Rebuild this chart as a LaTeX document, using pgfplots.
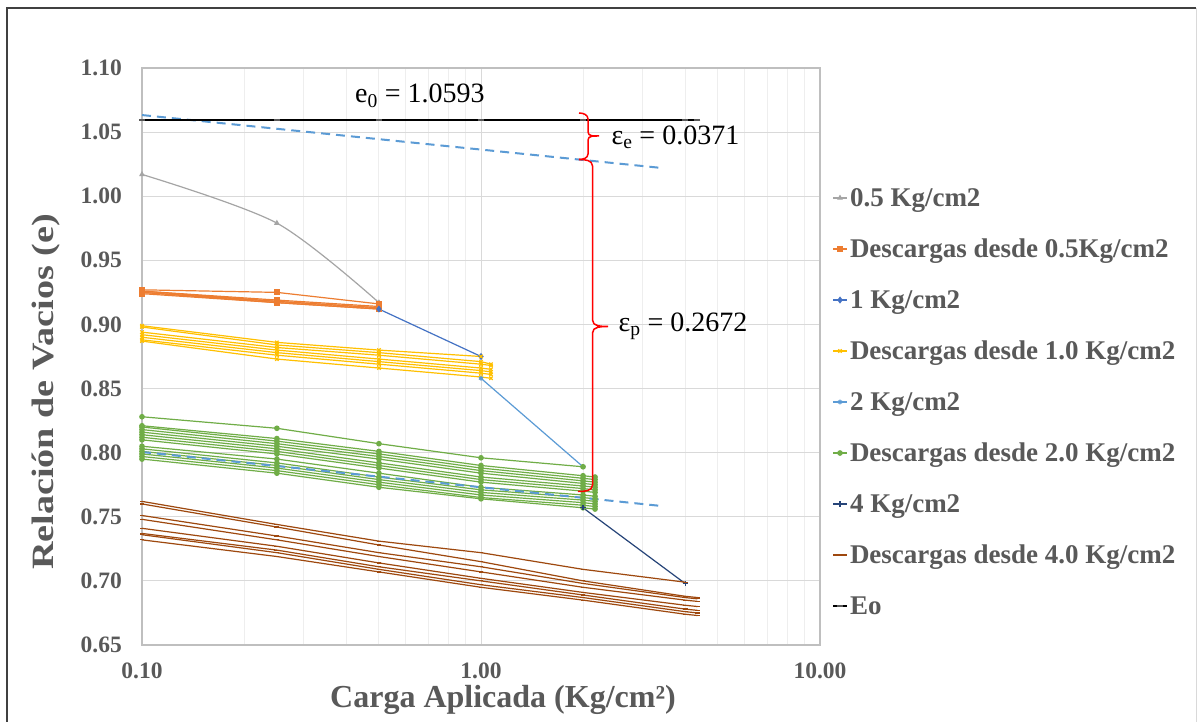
\documentclass[border=0pt]{standalone}
\usepackage{pgfplots}
\pgfplotsset{compat=1.18}
\usepackage{pgfplotstable}
\usepackage{graphicx}
\usepackage{fontspec}
\setmainfont{Liberation Serif}
\definecolor{cGray}{HTML}{A5A5A5}
\definecolor{cOrange}{HTML}{ED7D31}
\definecolor{cBlue}{HTML}{4472C4}
\definecolor{cYellow}{HTML}{FFC000}
\definecolor{cLBlue}{HTML}{5B9BD5}
\definecolor{cGreen}{HTML}{70AD47}
\definecolor{cDBlue}{HTML}{264478}
\definecolor{cBrown}{HTML}{9E480E}
\definecolor{cText}{HTML}{595959}
\definecolor{cGrid}{HTML}{D9D9D9}
\definecolor{cMinor}{HTML}{EEEEEE}
\definecolor{cAxis}{HTML}{BFBFBF}
\definecolor{cFrame}{HTML}{404040}

% Descargas desde 0.5 Kg/cm2
\pgfplotstableread{
x     a     b     c     d     e     f
0.1   0.927 0.926 0.926 0.925 0.925 0.924
0.25  0.925 0.919 0.918 0.918 0.917 0.917
0.5   0.916 0.914 0.913 0.913 0.912 0.912
}\tabOrange

% Descargas desde 1.0 Kg/cm2
\pgfplotstableread{
x     a     b     c     d     e     f     g
0.1   0.899 0.898 0.894 0.892 0.890 0.888 0.887
0.25  0.886 0.884 0.882 0.880 0.878 0.876 0.873
0.5   0.880 0.878 0.876 0.873 0.871 0.869 0.866
1.0   0.875 0.871 0.869 0.866 0.864 0.862 0.859
1.07  nan   0.869 0.868 0.865 0.863 0.861 0.858
}\tabYellow

% Descargas desde 2.0 Kg/cm2
\pgfplotstableread{
x     a     b     c     d     e     f     g     h     i     j     k     l     m     n
0.1   0.828 0.821 0.820 0.818 0.816 0.814 0.812 0.810 0.805 0.803 0.801 0.799 0.797 0.795
0.25  0.819 0.811 0.809 0.807 0.805 0.803 0.801 0.799 0.795 0.792 0.790 0.788 0.786 0.784
0.5   0.807 0.801 0.799 0.797 0.795 0.792 0.790 0.788 0.784 0.781 0.779 0.777 0.775 0.773
1.0   0.796 0.790 0.788 0.786 0.784 0.781 0.779 0.777 0.773 0.771 0.769 0.767 0.765 0.764
2.0   0.789 0.782 0.780 0.778 0.776 0.774 0.772 0.770 0.767 0.765 0.763 0.761 0.759 0.757
2.17  nan   0.781 0.779 0.777 0.775 0.773 0.771 0.769 0.766 0.764 0.762 0.760 0.758 0.756
}\tabGreen

% Descargas desde 4.0 Kg/cm2
\pgfplotstableread{
x     a     b     c     d     e     f     g     h
0.1   0.762 0.760 0.751 0.748 0.741 0.737 0.736 0.732
0.25  0.744 0.742 0.735 0.732 0.727 0.724 0.722 0.719
0.5   0.731 0.728 0.722 0.719 0.714 0.711 0.709 0.707
1.0   0.722 0.715 0.711 0.707 0.702 0.700 0.697 0.695
2.0   0.709 0.700 0.698 0.695 0.691 0.689 0.687 0.685
4.0   0.699 0.688 0.687 0.685 0.681 0.678 0.676 0.674
4.35  nan   0.687 0.686 0.684 0.680 0.677 0.675 0.673
}\tabBrown

\pgfplotsset{
  base/.style={line width=1.2pt, mark size=2pt, mark options={solid}},
  sOrange/.style={base, color=cOrange, mark=square*, mark size=2.4pt},
  sYellow/.style={base, color=cYellow, mark=x, mark size=2.4pt},
  sGreen/.style={base, color=cGreen, mark=*, mark size=2.2pt},
  sBrown/.style={base, color=cBrown, mark=-, mark size=2.4pt},
}

\begin{document}
\begin{tikzpicture}[x=1pt,y=1pt]
\useasboundingbox (0,0) rectangle (1197,722);
\fill[white] (0,0) rectangle (1197,722);
\draw[cFrame, line width=1.8pt] (7,-5) -- (7,714) -- (1196,714);
\draw[cGrid, line width=1pt] (1196,714) -- (1196,-5);

\begin{axis}[
  at={(142pt,77pt)}, anchor=south west,
  scale only axis, width=678pt, height=577pt,
  xmode=log, xmin=0.1, xmax=10, ymin=0.65, ymax=1.10,
  xtick={0.1,1,10}, xticklabels={0.10,1.00,10.00},
  minor xtick={0.2,0.3,0.4,0.5,0.6,0.7,0.8,0.9,2,3,4,5,6,7,8,9},
  ytick={0.65,0.70,0.75,0.80,0.85,0.90,0.95,1.00,1.05,1.10},
  yticklabels={0.65,0.70,0.75,0.80,0.85,0.90,0.95,1.00,1.05,1.10},
  major tick length=0pt, minor tick length=0pt,
  xmajorgrids, ymajorgrids, xminorgrids,
  major grid style={cGrid, line width=1pt},
  minor grid style={cMinor, line width=1pt},
  axis line style={cAxis, line width=1.3pt},
  yticklabel style={font=\bfseries\fontsize{23.5}{23.5}\selectfont, text=cText, inner sep=0pt},
  xticklabel style={font=\bfseries\fontsize{23.5}{23.5}\selectfont, text=cText, inner sep=0pt, text height=16pt, text depth=0pt},
  yticklabel shift=20pt,
  xticklabel shift=17pt,
  clip=false,
  legend cell align=left,
  legend image code/.code={\draw[mark repeat=2,mark phase=2,#1] plot coordinates {(0pt,0pt) (7pt,0pt) (14pt,0pt)};},
  legend style={at={(1.0177,0.7946)}, anchor=north west, draw=none, fill=none,
    inner sep=0pt, outer sep=0pt, row sep=28pt, column sep=2pt,
    font=\bfseries\fontsize{27}{27}\selectfont, text=cText,
    nodes={inner sep=0pt, text height=20pt, text depth=3pt}},
]
% 0.5 Kg/cm2
\addplot[base, color=cGray, mark=triangle*, mark size=2.2pt, smooth, tension=0.5] coordinates {(0.1,1.017) (0.25,0.979) (0.5,0.917)};
\addlegendentry{0.5 Kg/cm2}
% Descargas desde 0.5
\addplot[sOrange] table[x=x,y=a]{\tabOrange};
\addlegendentry{Descargas desde 0.5Kg/cm2}
\addplot[sOrange, forget plot] table[x=x,y=b]{\tabOrange};
\addplot[sOrange, forget plot] table[x=x,y=c]{\tabOrange};
\addplot[sOrange, forget plot] table[x=x,y=d]{\tabOrange};
\addplot[sOrange, forget plot] table[x=x,y=e]{\tabOrange};
\addplot[sOrange, forget plot] table[x=x,y=f]{\tabOrange};
% 1 Kg/cm2
\addplot[base, color=cBlue, mark=diamond*, mark size=2.6pt] coordinates {(0.5,0.912) (1.0,0.875)};
\addlegendentry{1 Kg/cm2}
% Descargas desde 1.0
\addplot[sYellow] table[x=x,y=a]{\tabYellow};
\addlegendentry{Descargas desde 1.0 Kg/cm2}
\addplot[sYellow, forget plot] table[x=x,y=b]{\tabYellow};
\addplot[sYellow, forget plot] table[x=x,y=c]{\tabYellow};
\addplot[sYellow, forget plot] table[x=x,y=d]{\tabYellow};
\addplot[sYellow, forget plot] table[x=x,y=e]{\tabYellow};
\addplot[sYellow, forget plot] table[x=x,y=f]{\tabYellow};
\addplot[sYellow, forget plot] table[x=x,y=g]{\tabYellow};
% 2 Kg/cm2
\addplot[base, color=cLBlue, mark=asterisk, mark size=2.4pt] coordinates {(1.0,0.858) (2.0,0.789)};
\addlegendentry{2 Kg/cm2}
% Descargas desde 2.0
\addplot[sGreen] table[x=x,y=a]{\tabGreen};
\addlegendentry{Descargas desde 2.0 Kg/cm2}
\addplot[sGreen, forget plot] table[x=x,y=b]{\tabGreen};
\addplot[sGreen, forget plot] table[x=x,y=c]{\tabGreen};
\addplot[sGreen, forget plot] table[x=x,y=d]{\tabGreen};
\addplot[sGreen, forget plot] table[x=x,y=e]{\tabGreen};
\addplot[sGreen, forget plot] table[x=x,y=f]{\tabGreen};
\addplot[sGreen, forget plot] table[x=x,y=g]{\tabGreen};
\addplot[sGreen, forget plot] table[x=x,y=h]{\tabGreen};
\addplot[sGreen, forget plot] table[x=x,y=i]{\tabGreen};
\addplot[sGreen, forget plot] table[x=x,y=j]{\tabGreen};
\addplot[sGreen, forget plot] table[x=x,y=k]{\tabGreen};
\addplot[sGreen, forget plot] table[x=x,y=l]{\tabGreen};
\addplot[sGreen, forget plot] table[x=x,y=m]{\tabGreen};
\addplot[sGreen, forget plot] table[x=x,y=n]{\tabGreen};
% 4 Kg/cm2
\addplot[base, color=cDBlue, mark=+, mark size=2.6pt] coordinates {(2.0,0.757) (4.0,0.698)};
\addlegendentry{4 Kg/cm2}
% Descargas desde 4.0
\addplot[sBrown] table[x=x,y=a]{\tabBrown};
\addlegendentry{Descargas desde 4.0 Kg/cm2}
\addplot[sBrown, forget plot] table[x=x,y=b]{\tabBrown};
\addplot[sBrown, forget plot] table[x=x,y=c]{\tabBrown};
\addplot[sBrown, forget plot] table[x=x,y=d]{\tabBrown};
\addplot[sBrown, forget plot] table[x=x,y=e]{\tabBrown};
\addplot[sBrown, forget plot] table[x=x,y=f]{\tabBrown};
\addplot[sBrown, forget plot] table[x=x,y=g]{\tabBrown};
\addplot[sBrown, forget plot] table[x=x,y=h]{\tabBrown};
% trend lines
\addplot[cLBlue, line width=2pt, dash pattern=on 9pt off 6pt, forget plot] coordinates {(0.1,1.0633) (3.42,1.0220)};
\addplot[cLBlue, line width=2pt, dash pattern=on 9pt off 6pt, forget plot] coordinates {(0.1,0.8005) (3.41,0.7584)};
% Eo
\addplot[black, line width=2pt, mark=-, mark size=3pt, mark options={color=cText, line width=2pt}] coordinates {(0.1,1.0593) (0.25,1.0593) (0.5,1.0593) (1,1.0593) (2,1.0593) (4,1.0593) (4.35,1.0593)};
\addlegendentry{Eo}
\end{axis}

% annotations
\node[font=\fontsize{28}{28}\selectfont] at (420,626) {e\textsubscript{0} = 1.0593};
\node[font=\fontsize{28}{28}\selectfont, anchor=west] at (608,585) {ε\textsubscript{e} = 0.0371};
\node[font=\fontsize{28}{28}\selectfont, anchor=west] at (615,395.5) {ε\textsubscript{p} = 0.2672};
\draw[red, line width=1.5pt] (579,609) to[out=0,in=90] (588,603) -- (588,590) to[out=-90,in=180] (599,586) to[out=180,in=90] (588,582) -- (588,568) to[out=-90,in=0] (579,562.5);
\draw[red, line width=1.5pt] (579,562.5) to[out=0,in=90] (592.5,556) -- (592.5,402) to[out=-90,in=180] (608,395.5) to[out=180,in=90] (592.5,389) -- (592.5,237) to[out=-90,in=0] (578,230.5);

% axis titles
\node[font=\bfseries\fontsize{32}{32}\selectfont, text=cText] at (503,22) {Carga Aplicada (Kg/cm²)};
\node[font=\bfseries\fontsize{31}{31}\selectfont, text=cText, rotate=90] at (46,330) {\scalebox{1.23}[1]{Relación de Vacios (e)}};
\end{tikzpicture}
\end{document}
